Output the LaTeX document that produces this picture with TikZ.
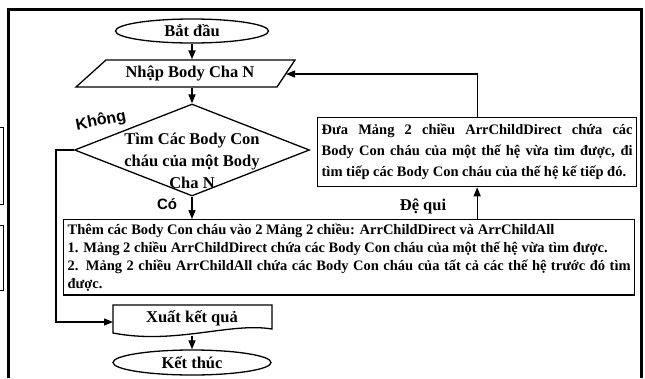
\documentclass[tikz,border=0pt]{standalone}
\usepackage{fontspec}
\setmainfont{Liberation Serif}
\newfontfamily\sansb{Liberation Sans}
\usetikzlibrary{shapes.geometric,arrows.meta}
\begin{document}
\begin{tikzpicture}[x=1pt,y=-1pt,
  line width=1.3pt,
  arr/.style={-{Triangle[length=9pt,width=7pt]}, line width=1.3pt},
  lbl/.style={font=\fontsize{16.5}{22}\selectfont\bfseries, inner sep=0pt},
  term/.style={ellipse, draw, line width=1.3pt, inner sep=0pt, lbl},
  txtbox/.style={draw, line width=1.3pt, inner sep=4pt, align=justify, anchor=north west},
  sanslbl/.style={font=\sansb\fontsize{16}{18}\selectfont\bfseries, inner sep=0pt}
]
\useasboundingbox (0,0) rectangle (645,378);

% outer frame
\draw[line width=2.7pt] (8.7,378) -- (8.7,9.7) -- (641.5,9.7) -- (641.5,378);
% cut-off fragments on the left
\draw[line width=1pt] (0,127) -- (3.5,127) -- (3.5,204) -- (0,204);
\draw[line width=1pt] (0,225) -- (3.5,225) -- (3.5,290) -- (0,290);

% start
\node[term, minimum width=153pt, minimum height=24pt] (start) at (192,31) {Bắt đầu};

% input parallelogram
\draw (106,60) -- (295,60) -- (277,87) -- (76,87) -- cycle;
\node[lbl, minimum width=170pt, minimum height=27pt] (inp) at (190,73.5) {Nhập Body Cha N};
\coordinate (inR) at (286,74);

% decision
\node[diamond, draw, minimum width=235pt, minimum height=92pt, inner sep=0pt] (dec) at (192,150) {};
\node[lbl, align=center] (dect) at (192,161) {Tìm Các Body Con\\cháu của một Body\\Cha N};

% big box
\node[txtbox, text width=563pt, font=\fontsize{14.5}{18}\selectfont\bfseries] (add) at (63,219)
{Thêm các Body Con cháu vào 2 Mảng 2 chiều: ArrChildDirect và ArrChildAll\\
1. Mảng 2 chiều ArrChildDirect chứa các Body Con cháu của một thế hệ vừa tìm được.\\
2. Mảng 2 chiều ArrChildAll chứa các Body Con cháu của tất cả các thế hệ trước đó tìm\linebreak được.};

% right box
\node[txtbox, text width=311pt, minimum height=69pt, font=\fontsize{14.5}{21}\selectfont\bfseries] (rb) at (317,117)
{Đưa Mảng 2 chiều ArrChildDirect chứa các\linebreak Body Con cháu của một thế hệ vừa tìm được, đi\linebreak tìm tiếp các Body Con cháu của thế hệ kế tiếp đó.};

% output document
\draw (113,305) -- (272,305) -- (272,329) .. controls (230,322) and (175,345) .. (113,333) -- cycle;
\node[lbl] (outt) at (192,318) {Xuất kết quả};
\coordinate (outL) at (113,322);
\coordinate (outB) at (192,335.5);

% end
\node[term, minimum width=158pt, minimum height=25pt] (end) at (192,362.5) {Kết thúc};

% labels
\node[sanslbl, rotate=11] (khong) at (101,121) {Không};
\node[sanslbl, font=\sansb\fontsize{15}{18}\selectfont\bfseries] (co) at (167,204) {Có};
\node[lbl] (dq) at (423,206) {Đệ qui};

% connectors
\draw[arr] (start.south) -- (start.south |- inp.north);
\draw[arr] (dec.north |- inp.south) -- (dec.north);
\draw[arr] (dec.south) -- (dec.south |- add.north);
\draw[arr] (rb.south |- add.north) -- (rb.south);
\draw[arr] (rb.north) |- (inR);
\draw[arr] (dec.west) -- ++(-18,0) |- (outL);
\draw[arr] (outB) -- (end.north);
\end{tikzpicture}
\end{document}
